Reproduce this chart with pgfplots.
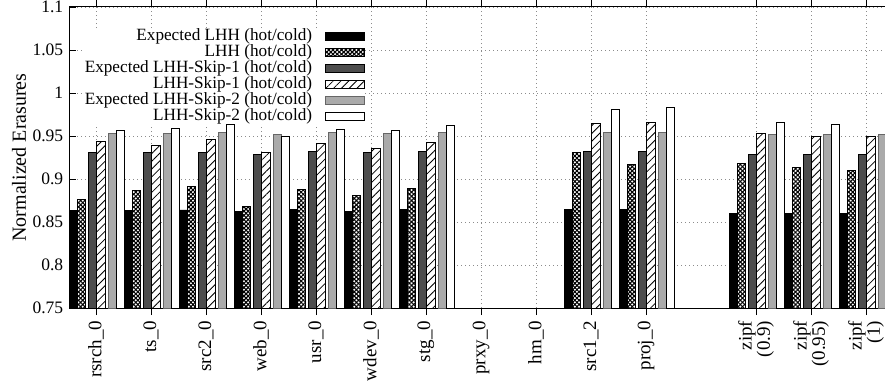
\documentclass[border=0pt]{standalone}
\usepackage{fontspec}
\setmainfont{Liberation Serif}
\usepackage{pgfplots}
\pgfplotsset{compat=1.18}
\usetikzlibrary{patterns,patterns.meta}
\definecolor{darkbar}{RGB}{77,77,77}
\definecolor{lightbar}{RGB}{170,170,170}
\begin{document}
\fontsize{17}{17}\selectfont
\begin{tikzpicture}
\begin{axis}[
  name=ax,
  x=55pt, y=860pt,
  xmin=-0.49, xmax=14.36, ymin=0.75, ymax=1.1,
  ybar, bar width=0.15,
  axis line style={line width=1pt},
  xtick={0,1,2,3,4,5,6,7,8,9,10,12,13,14},
  xticklabels={rsrch\_0, ts\_0, src2\_0, web\_0, usr\_0, wdev\_0, stg\_0, prxy\_0, hm\_0, src1\_2, proj\_0, {zipf\\(0.9)}, {zipf\\(0.95)}, {zipf\\(1)}},
  xtick pos=both, xticklabel pos=lower, xtick align=outside,
  ytick pos=left, ytick align=inside,
  ytick={0.75,0.8,0.85,0.9,0.95,1,1.05,1.1},
  yticklabels={0.75,0.8,0.85,0.9,0.95,1,1.05,1.1},
  yticklabel style={font=\fontsize{17.5}{17}\selectfont},
  major tick length=7pt,
  tick style={line width=0.8pt, black},
  xmajorgrids, ymajorgrids,
  grid style={line width=0.8pt, black!45, dash pattern=on 0.8pt off 3.2pt},
  ylabel={Normalized Erasures},
  ylabel style={font=\fontsize{20}{20}\selectfont},
  ylabel shift=-5pt,
  xticklabel style={rotate=90, anchor=east, align=right, font=\fontsize{19}{17}\selectfont},
  legend cell align=right,
  legend plot pos=right,
  legend image code/.code={\draw[#1,line width=0.8pt] (0pt,-4pt) rectangle (39pt,4pt);},
  legend style={draw=none, fill=white, at={(rel axis cs:0.3626,0.9247)}, anchor=north east,
    inner sep=0pt, row sep=2pt, column sep=13pt, font=\fontsize{17.2}{17}\selectfont,
    nodes={inner sep=0pt, text height=11pt, text depth=3pt}},
]
\addplot[fill=black, draw=black, line width=0.8pt, bar shift=-0.415] coordinates {
 (0,0.863) (1,0.863) (2,0.864) (3,0.862) (4,0.865) (5,0.862) (6,0.865)
 (9,0.865) (10,0.865) (12,0.860) (13,0.860) (14,0.860)};
\addplot[fill=white, draw=black, line width=0.8pt, bar shift=-0.265,
  postaction={pattern={Lines[angle=45,distance=3pt,line width=1.1pt]}},
  postaction={pattern={Lines[angle=-45,distance=3pt,line width=1.1pt]}}] coordinates {
 (0,0.876) (1,0.887) (2,0.8915) (3,0.868) (4,0.888) (5,0.881) (6,0.8895)
 (9,0.931) (10,0.917) (12,0.918) (13,0.913) (14,0.910)};
\addplot[fill=darkbar, draw=black, line width=0.8pt, bar shift=-0.06] coordinates {
 (0,0.931) (1,0.931) (2,0.931) (3,0.929) (4,0.932) (5,0.931) (6,0.932)
 (9,0.932) (10,0.932) (12,0.929) (13,0.929) (14,0.929)};
\addplot[fill=white, draw=black, line width=0.8pt, bar shift=0.09,
  postaction={pattern={Lines[angle=45,distance=5.5pt,line width=0.8pt]}}] coordinates {
 (0,0.944) (1,0.939) (2,0.946) (3,0.931) (4,0.941) (5,0.936) (6,0.942)
 (9,0.965) (10,0.966) (12,0.953) (13,0.950) (14,0.949)};
\addplot[fill=lightbar, draw=black!60, line width=0.8pt, bar shift=0.295] coordinates {
 (0,0.953) (1,0.953) (2,0.954) (3,0.952) (4,0.954) (5,0.953) (6,0.954)
 (9,0.954) (10,0.954) (12,0.952) (13,0.952) (14,0.952)};
\addplot[fill=white, draw=black, line width=0.8pt, bar shift=0.445] coordinates {
 (0,0.957) (1,0.959) (2,0.963) (3,0.949) (4,0.958) (5,0.957) (6,0.962)
 (9,0.981) (10,0.983) (12,0.966) (13,0.964) (14,0.963)};
\legend{Expected LHH (hot/cold), LHH (hot/cold), Expected LHH-Skip-1 (hot/cold), LHH-Skip-1 (hot/cold), Expected LHH-Skip-2 (hot/cold), LHH-Skip-2 (hot/cold)}
\end{axis}
\pgfresetboundingbox
\useasboundingbox ([xshift=-69pt,yshift=-75pt]ax.south west) rectangle ([xshift=-0.8pt,yshift=7pt]ax.north east);
\end{tikzpicture}
\end{document}
